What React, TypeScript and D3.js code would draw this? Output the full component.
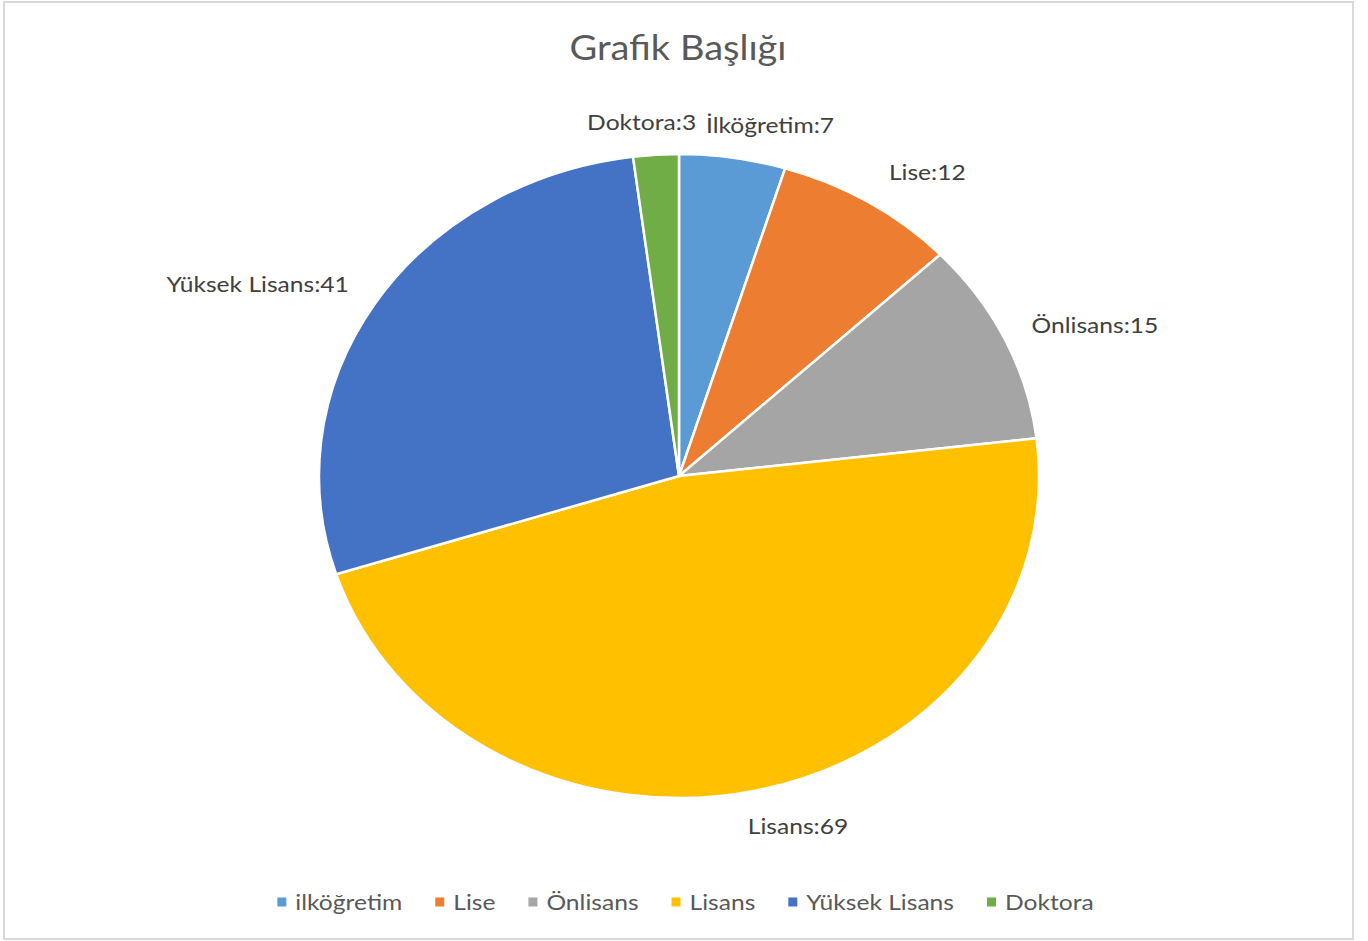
import React, { useEffect, useRef } from 'react'
import * as d3 from 'd3'

const categories = ['İlköğretim', 'Lise', 'Önlisans', 'Lisans', 'Yüksek Lisans', 'Doktora']
const legendNames = ['ilköğretim', 'Lise', 'Önlisans', 'Lisans', 'Yüksek Lisans', 'Doktora']
const values = [7, 12, 15, 69, 41, 3]
const colors = ['#5B9BD5', '#ED7D31', '#A5A5A5', '#FFC000', '#4472C4', '#70AD47']

// small hand tweaks for Excel's "best fit" label placement
const labelNudge: [number, number][] = [[32, -1], [1, -4], [-6, -1], [35, 3], [4, -2], [-12, -1]]

const W = 1368
const H = 941
const cx = 679
const cy = 476
const rx = 360
const ry = 322
const sx = rx / ry // the whole chart is stretched horizontally
const font = 'Lato, "Open Sans", sans-serif'

const App: React.FC = () => {
  const ref = useRef<SVGSVGElement>(null)

  useEffect(() => {
    document.body.style.margin = '0'
    const svg = d3.select(ref.current)
    svg.selectAll('*').remove()

    svg.append('rect')
      .attr('x', 4).attr('y', 2)
      .attr('width', 1349).attr('height', 937)
      .attr('fill', '#fff')
      .attr('stroke', '#d9d9d9')
      .attr('stroke-width', 2)

    svg.append('text')
      .attr('transform', `translate(678,47) scale(${sx},1)`)
      .attr('text-anchor', 'middle')
      .attr('dominant-baseline', 'central')
      .attr('font-family', font)
      .attr('font-size', 34)
      .attr('fill', '#595959')
      .text('Grafik Başlığı')

    const pie = d3.pie<number>().sort(null).value(d => d)
    const arcs = pie(values)
    const arc = d3.arc<d3.PieArcDatum<number>>().innerRadius(0).outerRadius(ry)

    const g = svg.append('g')
      .attr('transform', `translate(${cx},${cy}) scale(${sx},1)`)

    g.selectAll('path')
      .data(arcs)
      .join('path')
      .attr('d', d => arc(d) as string)
      .attr('fill', (_, i) => colors[i])
      .attr('stroke', '#fff')
      .attr('stroke-width', 2.5)
      .attr('vector-effect', 'non-scaling-stroke')

    const k = 1.1
    svg.append('g').selectAll('text')
      .data(arcs)
      .join('text')
      .each(function (d, i) {
        const a = (d.startAngle + d.endAngle) / 2
        const s = Math.sin(a)
        const x = cx + rx * k * s + labelNudge[i][0]
        const y = cy - ry * k * Math.cos(a) + labelNudge[i][1]
        d3.select(this)
          .attr('transform', `translate(${x},${y}) scale(${sx},1)`)
          .attr('text-anchor', s > 0.3 ? 'start' : s < -0.3 ? 'end' : 'middle')
      })
      .attr('dominant-baseline', 'central')
      .attr('font-family', font)
      .attr('font-size', 22)
      .attr('fill', '#404040')
      .text((d, i) => `${categories[i]}:${d.data}`)

    // legend, centred under the pie
    const lg = svg.append('g')
    const items = lg.selectAll('g')
      .data(legendNames)
      .join('g')
    items.append('rect')
      .attr('width', 9).attr('height', 9)
      .attr('y', -4.5)
      .attr('fill', (_, i) => colors[i])
    items.append('text')
      .attr('transform', `translate(18,0) scale(${sx},1)`)
      .attr('dominant-baseline', 'central')
      .attr('font-family', font)
      .attr('font-size', 22)
      .attr('fill', '#595959')
      .text(d => d)

    let offset = 0
    items.each(function () {
      const t = d3.select(this).select<SVGTextElement>('text').node()!
      const w = 18 + t.getComputedTextLength() * sx
      d3.select(this).attr('transform', `translate(${offset},0)`)
      offset += w + 33
    })
    const total = offset - 33
    lg.attr('transform', `translate(${685.5 - total / 2},902)`)
  }, [])

  return <svg ref={ref} width={W} height={H} style={{ display: 'block' }} />
}

export default App
